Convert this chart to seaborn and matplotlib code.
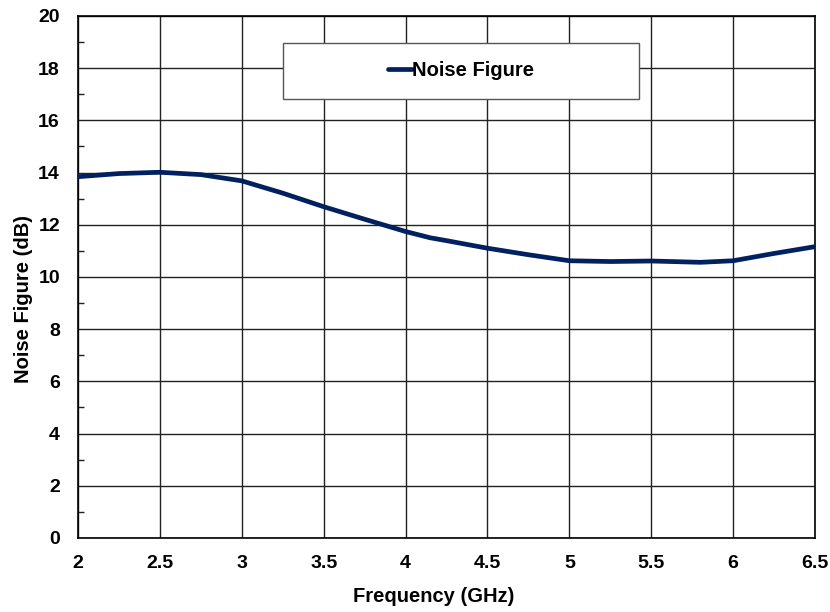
import matplotlib
matplotlib.use("Agg")
import matplotlib.pyplot as plt
import seaborn as sns
import pandas as pd
from matplotlib.patches import Rectangle
from matplotlib.ticker import MultipleLocator

freq = [2.0, 2.25, 2.5, 2.75, 3.0, 3.25, 3.5, 3.75, 4.0, 4.15, 4.25, 4.5, 4.75,
        5.0, 5.25, 5.5, 5.8, 6.0, 6.25, 6.5]
nf = [13.84, 13.96, 14.01, 13.92, 13.68, 13.21, 12.69, 12.21, 11.74, 11.5, 11.39, 11.1, 10.85,
      10.62, 10.59, 10.61, 10.56, 10.62, 10.9, 11.16]
series_name = "Noise Figure"
x_ticks = [2, 2.5, 3, 3.5, 4, 4.5, 5, 5.5, 6, 6.5]
x_tick_labels = ["2", "2.5", "3", "3.5", "4", "4.5", "5", "5.5", "6", "6.5"]
y_ticks = [0, 2, 4, 6, 8, 10, 12, 14, 16, 18, 20]

df = pd.DataFrame({"Frequency": freq, "NF": nf, "series": series_name})

sns.set_theme(style="white")
plt.rcParams['font.family'] = ['Liberation Sans', 'DejaVu Sans']
plt.rcParams['font.weight'] = 'bold'
plt.rcParams['text.color'] = 'black'
plt.rcParams['axes.labelcolor'] = 'black'
plt.rcParams['xtick.color'] = 'black'
plt.rcParams['ytick.color'] = 'black'

fig = plt.figure(figsize=(8.3, 6.12), dpi=100)
ax = fig.add_axes([0.094, 0.121, 0.888, 0.853])

sns.lineplot(data=df, x="Frequency", y="NF", hue="series", palette=["#002060"],
             linewidth=3.4, ax=ax, legend=False, zorder=5)
for ln in ax.get_lines():
    ln.set_solid_joinstyle("round")
    ln.set_solid_capstyle("round")

ax.set_xlim(2, 6.5)
ax.set_ylim(0, 20)
ax.set_xticks(x_ticks)
ax.set_xticklabels(x_tick_labels)
ax.set_yticks(y_ticks)
ax.yaxis.set_minor_locator(MultipleLocator(1))
ax.grid(True, which="major", color="#222222", linewidth=1.0)
ax.tick_params(axis="x", which="major", length=0, labelsize=14, pad=12, labelcolor="black")
ax.tick_params(axis="y", which="major", length=0, labelsize=14, pad=13, labelcolor="black")
ax.tick_params(axis="y", which="minor", direction="in", length=4, width=1, left=True, color="#222222")
for lbl in ax.get_xticklabels() + ax.get_yticklabels():
    lbl.set_fontweight("bold")
for s in ax.spines.values():
    s.set_color("black")
    s.set_linewidth(1.2)

ax.set_xlabel("Frequency (GHz)", fontsize=14.5, fontweight="bold", color="black")
ax.set_ylabel("Noise Figure (dB)", fontsize=14.5, fontweight="bold", color="black")
ax.xaxis.set_label_coords(0.482, -0.094)
ax.yaxis.set_label_coords(-0.061, 0.458)

# legend box
box = Rectangle((0.278, 0.841), 0.483, 0.107, transform=ax.transAxes,
                facecolor="white", edgecolor="#555555", linewidth=1.0, zorder=6)
ax.add_patch(box)
line = ax.get_lines()[0]
leg = ax.legend([line], [series_name], loc="center", bbox_to_anchor=(0.52, 0.895),
                frameon=False, handlelength=1.2, handletextpad=0.0,
                prop={"weight": "bold", "size": 14.5})
for t in leg.get_texts():
    t.set_color("black")
leg.set_zorder(7)

fig.savefig("out.png", dpi=100)
